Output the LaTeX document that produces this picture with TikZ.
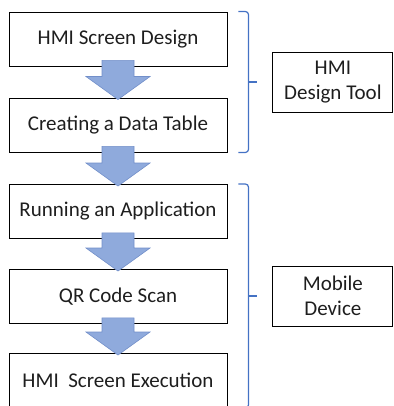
\documentclass[tikz,border=0pt]{standalone}
\usepackage{fontspec}
\setmainfont{Carlito}
\usepackage{xcolor}
\usetikzlibrary{calc,positioning}
\definecolor{arrowfill}{RGB}{143,170,220}
\definecolor{arrowline}{RGB}{114,143,201}
\definecolor{bracecol}{RGB}{68,114,196}
\definecolor{textcol}{RGB}{30,30,30}

\begin{document}
\begin{tikzpicture}[x=1pt,y=1pt,
  stepbox/.style={draw=black,line width=0.9pt,minimum width=218pt,minimum height=54pt,
    inner sep=0pt,text=textcol,font=\fontsize{21}{25}\selectfont},
  sidebox/.style={draw=black,line width=0.9pt,minimum width=120pt,minimum height=60pt,
    inner sep=0pt,align=center,text=textcol,font=\fontsize{21}{25}\selectfont},
  blockarrow/.style={fill=arrowfill,draw=arrowline,line width=0.6pt,line join=miter},
  bracket/.style={draw=bracecol,line width=1.2pt,rounded corners=3pt}]
\useasboundingbox (0,0) rectangle (393,406);
% steps
\node[stepbox] (b1) at (118,367) {HMI Screen Design};
\node[stepbox] (b2) at (118,281) {Creating a Data Table};
\node[stepbox] (b3) at (118,194.5) {Running an Application};
\node[stepbox] (b4) at (118,109.5) {QR Code Scan};
\node[stepbox] (b5) at (118,25.5) {HMI~ Screen Execution};
% block arrows between steps
\foreach \a/\b in {b1/b2,b2/b3,b3/b4,b4/b5}
  \draw[blockarrow] ($(\a.south)+(-16,6)$) -- ($(\b.north)+(-16,21)$) -- ($(\b.north)+(-32,21)$)
    -- ($(\b.north)+(0,-2)$) -- ($(\b.north)+(32,21)$) -- ($(\b.north)+(16,21)$)
    -- ($(\a.south)+(16,6)$) -- cycle;
% braces
\draw[bracket] ([xshift=11pt]b1.north east) -| ([xshift=21pt]b2.south east) -- ([xshift=11pt]b2.south east);
\coordinate (m1) at ($([xshift=21pt]b1.north east)!0.5!([xshift=21pt]b2.south east)$);
\draw[bracket] (m1) -- ++(9,0) coordinate (tip1);
\draw[bracket] ([xshift=11pt]b3.north east) -| ([xshift=21pt]b5.south east) -- ([xshift=11pt]b5.south east);
\coordinate (m2) at ($([xshift=21pt]b3.north east)!0.5!([xshift=21pt]b5.south east)$);
\draw[bracket] (m2) -- ++(9,0) coordinate (tip2);
% groups
\node[sidebox,right=15pt of tip1] (tool) {HMI\\Design Tool};
\node[sidebox,right=15pt of tip2] (mobile) {Mobile\\Device};
\end{tikzpicture}
\end{document}
